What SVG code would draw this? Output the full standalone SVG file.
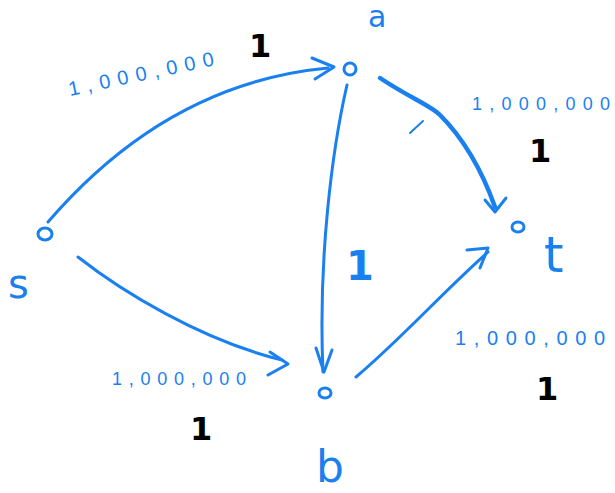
<svg xmlns="http://www.w3.org/2000/svg" width="615" height="493" viewBox="0 0 615 493">
<style>
.e{fill:none;stroke:#1a80f0;stroke-width:3;stroke-linecap:round;stroke-linejoin:round}
.n{fill:none;stroke:#1a80f0;stroke-width:3}
.lb{fill:#1a80f0;font-family:"DejaVu Sans",sans-serif}
.cap{fill:#1a80f0;font-family:"Liberation Sans",sans-serif;font-size:20px}
.k{fill:#000;font-family:"DejaVu Sans",sans-serif;font-weight:bold;font-size:32px}
</style>
<rect width="615" height="493" fill="#fff"/>
<g id="connectors">
<path class="e" d="M48,222 C110,150 200,80 328,68"/>
<path class="e" d="M312,58 L334,67 L315,79"/>
<path class="e" d="M78,257 C120,290 200,340 282,360"/>
<path class="e" d="M270,352 L288,364 L268,375"/>
<path class="e" d="M347,85 C332,150 318,260 323,372"/>
<path class="e" d="M316,348 L324,372 L332,350"/>
<path class="e" d="M380,78 C410,98 430,105 440,115 C460,135 480,165 495,207" style="stroke-width:4.5"/>
<path class="e" d="M485,200 L495,212 L506,198"/>
<path class="e" d="M356,377 C400,340 440,295 488,252"/>
<path class="e" d="M467,250 L488,248 L480,268"/>
<path class="e" d="M410,133 L423,121" style="stroke-width:2"/>
</g>
<g id="s"><ellipse class="n" cx="45" cy="234" rx="7" ry="6"/><text class="lb" x="8" y="298" font-size="40">s</text></g>
<g id="a"><ellipse class="n" cx="350" cy="69" rx="6" ry="6"/><text class="lb" x="368" y="27" font-size="30">a</text></g>
<g id="b"><ellipse class="n" cx="325" cy="393" rx="6" ry="5"/><text class="lb" x="316" y="482" font-size="44">b</text></g>
<g id="t"><ellipse class="n" cx="518" cy="227" rx="6" ry="5"/><text class="lb" x="544" y="272" font-size="50">t</text></g>
<g id="labels">
<text class="cap" transform="translate(70,96) rotate(-12)" textLength="148" lengthAdjust="spacing">1,000,000</text>
<text class="k" x="249" y="57">1</text>
<text class="cap" x="472" y="110" textLength="138" lengthAdjust="spacing" style="font-size:18px">1,000,000</text>
<text class="k" x="529" y="162">1</text>
<text class="lb" x="346" y="280" font-size="40" font-weight="bold">1</text>
<text class="cap" x="112" y="385" textLength="134" lengthAdjust="spacing" style="font-size:18px">1,000,000</text>
<text class="k" x="190" y="440">1</text>
<text class="cap" x="455" y="345" textLength="150" lengthAdjust="spacing">1,000,000</text>
<text class="k" x="536" y="400">1</text>
</g>
</svg>
